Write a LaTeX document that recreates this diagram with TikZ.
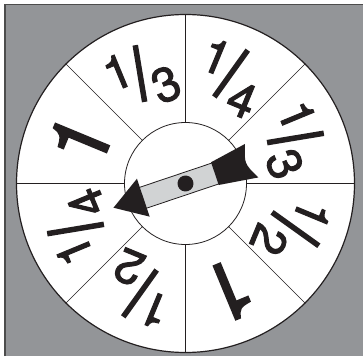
\documentclass[tikz,border=0pt]{standalone}
\usepackage{fontspec}
\setmainfont{TeX Gyre Heros}
\newfontfamily\numfont[FakeBold=2]{TeX Gyre Heros}
\newfontfamily\bigfont[FakeBold=2]{TeX Gyre Heros}
\definecolor{bg}{HTML}{939598}
\definecolor{ink}{HTML}{231F20}
\definecolor{shaftc}{HTML}{D1D3D4}
\begin{document}
\begin{tikzpicture}[x=1pt,y=1pt,
  num/.style={inner sep=0pt, text=ink, font=\numfont\fontsize{48}{48}\selectfont},
  big/.style={inner sep=0pt, text=ink, font=\bigfont\fontsize{82}{82}\selectfont},
  divider/.style={ink, line width=0.7pt},
  slashline/.style={ink, line width=5.5pt}]
\useasboundingbox (-185.5,-172.5) rectangle (177.5,183.5);
\fill[bg] (-180.5,-172.5) rectangle (177.5,179);
\draw[line width=1.5pt, black!70] (-180.5,-172.5) -- (-180.5,179) -- (177.5,179);
\node[circle, draw=ink, fill=white, line width=1.2pt, minimum size=338pt, inner sep=0pt] (outer) at (0,0) {};
\node[circle, draw=ink, fill=white, line width=0.8pt, minimum size=122pt, inner sep=0pt] (inner) at (0,0) {};
\foreach \a in {0,45,...,315} \draw[divider] (inner.\a) -- (outer.\a);
\foreach \a/\n/\d [count=\k] in {112.5/1/3, 67.5/1/4, 22.5/1/3, -22.5/1/2, -112.5/1/2, -157.5/1/4} {
  \begin{scope}[shift={(\a:119)}, rotate=\a-90, transform shape]
    \node[num] (t\k) at (-20,10) {\n};
    \node[num] (b\k) at (20,-20) {\d};
    \draw[slashline] (-6.5,-28) -- (6.5,28);
  \end{scope}
}
\node[big, rotate=-157.5] (w1) at (-67.5:116) {1};
\node[big, rotate=67.5] (w2) at (157.5:114) {1};
\begin{scope}[rotate=198.6]
  \draw[fill=shaftc, draw=ink, line width=0.8pt] (-34,-11) rectangle (46,11);
  \fill[ink] (76,0) -- (44.5,20) -- (44.5,-20) -- cycle;
  \fill[ink] (-31,-12) -- (-69,-18.5) .. controls (-62,0) .. (-71,17.5) -- (-31,12) -- cycle;
  \fill[ink] (0,0) circle (8);
\end{scope}
\end{tikzpicture}
\end{document}
